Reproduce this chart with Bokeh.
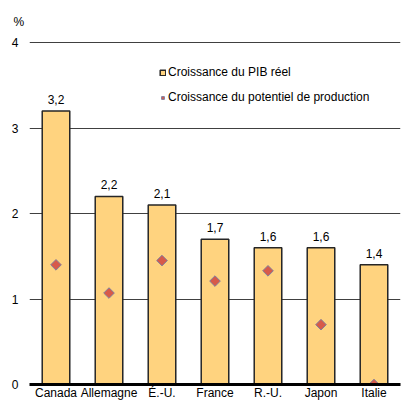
import math
from bokeh.plotting import figure
from bokeh.models import ColumnDataSource, FixedTicker, Legend, LegendItem
from bokeh.core.properties import value
from bokeh.embed import file_html
from bokeh.resources import INLINE

countries = ["Canada", "Allemagne", "É.-U.", "France", "R.-U.", "Japon", "Italie"]
gdp_growth = [3.2, 2.2, 2.1, 1.7, 1.6, 1.6, 1.4]
potential_growth = [1.40, 1.07, 1.45, 1.21, 1.33, 0.70, 0.0]
gdp_labels = ["3,2", "2,2", "2,1", "1,7", "1,6", "1,6", "1,4"]
y_ticks = [0, 1, 2, 3, 4]
unit_label = "%"

FONT = "Liberation Sans"

src = ColumnDataSource(dict(country=countries, gdp=gdp_growth, pot=potential_growth, lab=gdp_labels))

p = figure(x_range=countries, y_range=(0, 4.025), width=402, height=402,
           output_backend="svg", toolbar_location=None,
           min_border_left=29, min_border_right=2, min_border_top=40, min_border_bottom=18)
p.outline_line_color = None
p.background_fill_color = "white"
p.border_fill_color = "white"

p.title.text = unit_label
p.title.align = "left"
p.title.offset = -16
p.title.standoff = 24
p.title.text_font = FONT
p.title.text_font_size = "12px"
p.title.text_font_style = "normal"
p.title.text_color = "black"

p.xgrid.grid_line_color = None
p.ygrid.grid_line_color = "#404040"
p.ygrid.grid_line_width = 1
p.yaxis.ticker = FixedTicker(ticks=y_ticks)

bars = p.vbar(x="country", top="gdp", width=0.52, source=src,
              fill_color="#FFD37F", line_color="#262626", line_width=1.5)
pts = p.scatter(x="country", y="pot", source=src, marker="square", angle=math.pi / 4,
                size=7.5, fill_color="#D75A4A", line_color="#7F7F9F", line_width=1)

p.text(x="country", y="gdp", text="lab", source=src, text_align="center",
       text_baseline="bottom", y_offset=-7, text_font=value(FONT),
       text_font_size="12px", text_color="#000000")

for ax in (p.xaxis, p.yaxis):
    ax.major_tick_line_color = None
    ax.minor_tick_line_color = None
    ax.major_tick_out = 0
    ax.major_tick_in = 0
    ax.minor_tick_out = 0
    ax.minor_tick_in = 0
    ax.axis_label_standoff = 0
    ax.major_label_text_font = FONT
    ax.major_label_text_font_size = "12px"
    ax.major_label_text_color = "black"

p.xaxis.axis_line_color = "black"
p.xaxis.axis_line_width = 3
p.xaxis.major_label_standoff = 1

p.yaxis.axis_line_color = None
p.yaxis.major_label_standoff = 11

legend = Legend(items=[LegendItem(label="Croissance du PIB réel", renderers=[bars]),
                       LegendItem(label="Croissance du potentiel de production", renderers=[pts])],
                location=(130, 277), glyph_width=7, glyph_height=7, label_height=20,
                spacing=5, padding=0, margin=0, label_standoff=2,
                border_line_color=None, background_fill_alpha=0,
                label_text_font=FONT, label_text_font_size="12px", label_text_color="black")
p.add_layout(legend)

open("out.html", "w").write(file_html(p, INLINE))
